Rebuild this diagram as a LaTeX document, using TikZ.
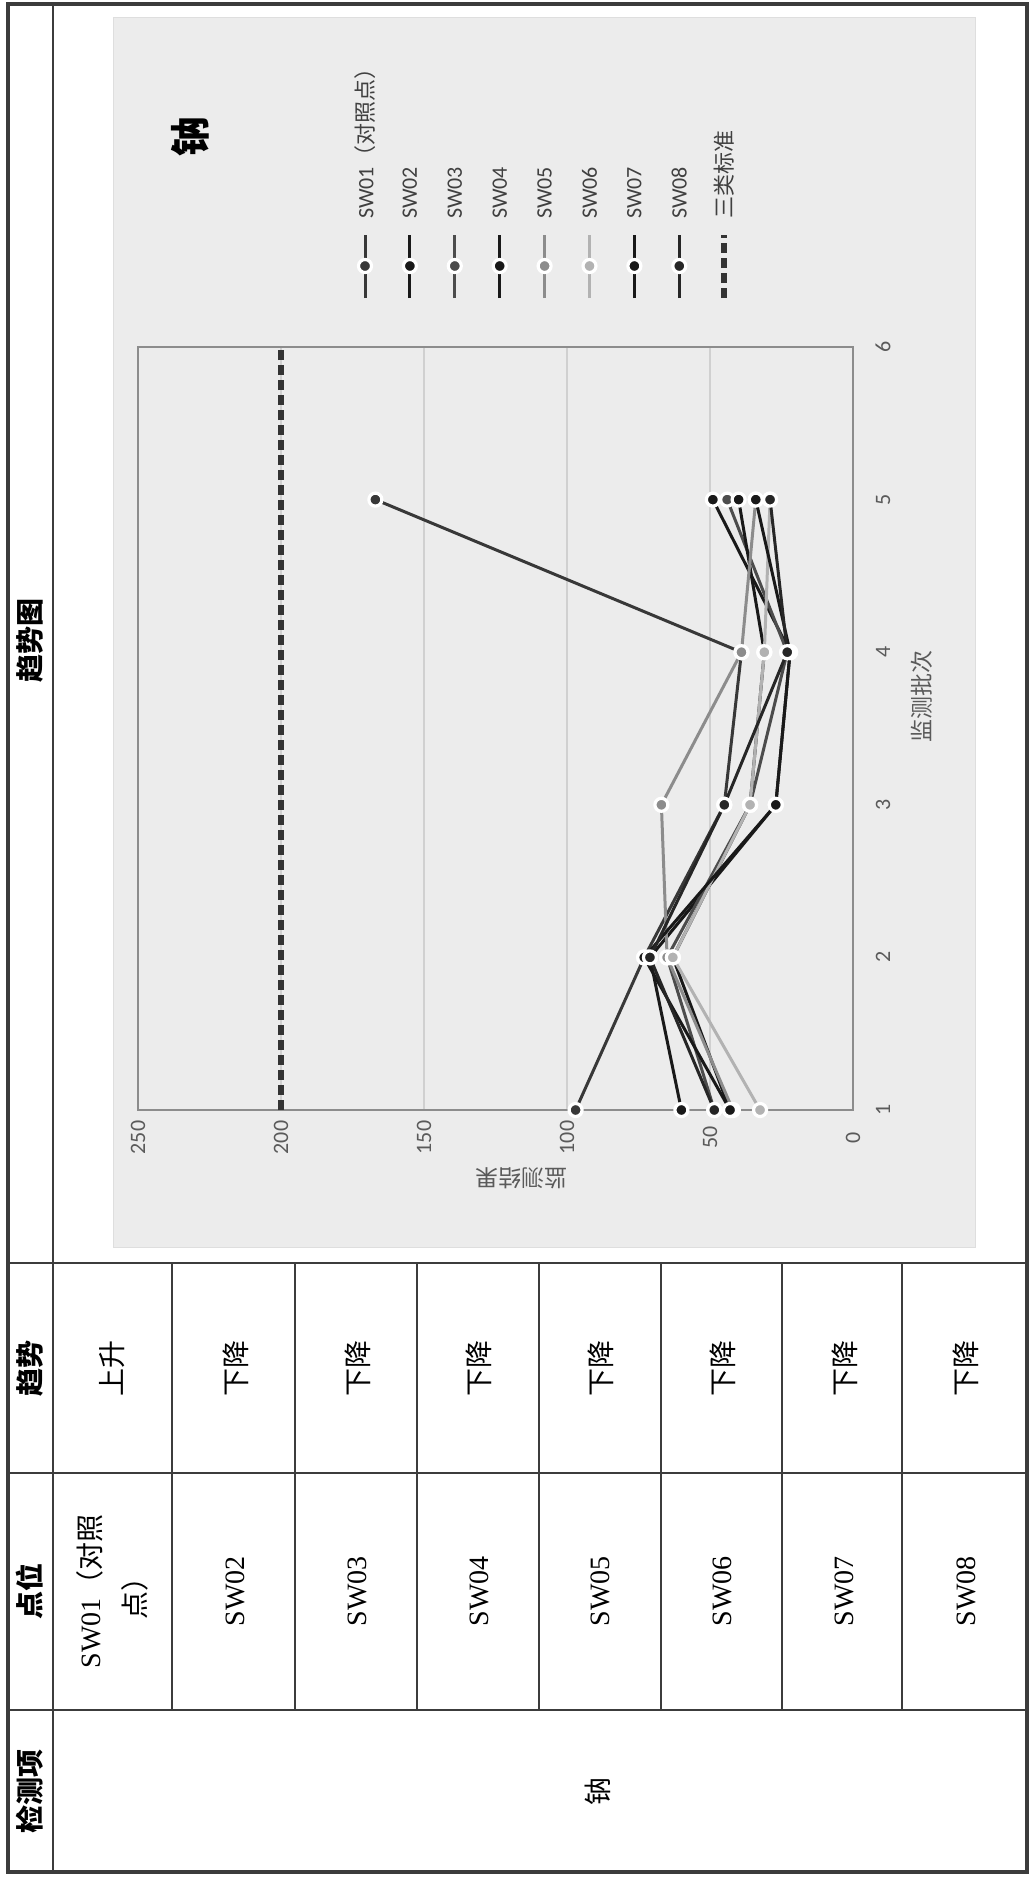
\documentclass[tikz,border=0pt]{standalone}
\usepackage{fontspec}
\setmainfont{Liberation Serif}
\newfontfamily\cjk{Noto Sans CJK SC}
\newfontfamily\cali{Carlito}
\definecolor{borde}{HTML}{3C3C3C}
\definecolor{fondo}{HTML}{ECECEC}
\definecolor{rejilla}{HTML}{D0D0D0}
\definecolor{letra}{HTML}{5A5A5A}
\begin{document}
\begin{tikzpicture}[x=0.5pt,y=-0.5pt,
    celda/.style={rotate=90,font=\fontsize{14}{22.5}\selectfont,align=center},
    cabeza/.style={rotate=90,font=\fontsize{14}{17}\selectfont\cjk\bfseries},
    marca/.style={rotate=90,font=\fontsize{11}{13}\selectfont\cali,text=letra},
    leyenda/.style={rotate=90,anchor=west,font=\fontsize{11}{13}\selectfont\cali,text=black!75},
    serie/.style={line width=1.5pt,line join=round},
    punto/.style={circle,draw=white,line width=1.6pt,inner sep=0pt,minimum size=6.5pt},
    norma/.style={line width=3pt,dash pattern=on 5pt off 2.5pt,black!80}]
    \useasboundingbox (0,0) rectangle (1032,1878);
    %%%% GRAFICO
    \draw[rejilla!70,fill=fondo] (113,17) rectangle (975,1247);
    \node[rotate=90,font=\fontsize{20}{22}\selectfont\cjk\bfseries] at (190,137) (titulo) {钠};
    \begin{scope}[shift={(853,1262.6)},x={(0pt,76.3pt)},y={(-1.43pt,0pt)}]
        %rejilla
        \foreach \v in {50,100,...,250} \draw[rejilla,line width=0.8pt] (1,\v) -- (6,\v);
        \draw[black!45,line width=0.8pt] (1,0) rectangle (6,250);
        %ejes
        \foreach \v in {0,50,...,250} \node[marca] at (0.82,\v) (y\v) {\v};
        \foreach \k in {1,...,6} \node[marca] at (\k,-10.5) (x\k) {\k};
        \node[marca,font=\fontsize{11.5}{13}\selectfont\cjk] at (3.71,-24) (ejex) {监测批次};
        \node[rotate=180,text=letra,font=\fontsize{11.5}{13}\selectfont\cjk] at (0.55,116) (ejey) {监测结果};
        %norma
        \draw[norma] (1,200) -- (6,200);
        %series
        \foreach \nom/\col/\sa/\sb/\sc/\sd/\se in {
            1/black!78/97/73/45/39/167,
            2/black!90/60/71/27/22/49,
            3/black!70/48.5/65/36/23/44,
            4/black!90/43/63/36/31/40,
            5/black!45/42/65/67/39/34,
            6/black!30/32.5/63/36/31/29,
            7/black!90/43/73/27/22/34,
            8/black!85/48.5/71/45/23/29}{
            \draw[serie,\col] (1,\sa) -- (2,\sb) -- (3,\sc) -- (4,\sd) -- (5,\se);
            \foreach \v [count=\i] in {\sa,\sb,\sc,\sd,\se}
                \node[punto,fill=\col] at (\i,\v) (p\nom-\i) {};
        }
    \end{scope}
    %leyenda
    \foreach \nom/\col [count=\i] in {SW01{\cjk（对照点）}/black!78,SW02/black!90,SW03/black!70,SW04/black!90,
        SW05/black!45,SW06/black!30,SW07/black!90,SW08/black!85}{
        \draw[serie,\col] ({365+44.9*(\i-1)},298) -- ({365+44.9*(\i-1)},235);
        \node[punto,fill=\col] at ({365+44.9*(\i-1)},266) (lp\i) {};
        \node[leyenda] at ({365+44.9*(\i-1)},226) (ley\i) {\nom};
    }
    \draw[norma] (724,298) -- (724,235);
    \node[leyenda,font=\fontsize{11}{13}\selectfont\cjk] at (724,226) (ley9) {三类标准};
    %%%% TABLA
    \draw[borde,line width=2pt] (8,4) rectangle (1027,1872);
    \draw[borde,line width=1pt] (53,4) -- (53,1872);
    \foreach \y in {1263,1473,1710} \draw[borde,line width=1pt] (8,\y) -- (1027,\y);
    \foreach \x in {172,295,417,539,661,782,902} \draw[borde,line width=1pt] (\x,1263) -- (\x,1710);
    %cabeza
    \node[cabeza] at (30,1791) (h1) {检测项};
    \node[cabeza] at (30,1591) (h2) {点位};
    \node[cabeza] at (30,1368) (h3) {趋势};
    \node[cabeza] at (30,640) (h4) {趋势图};
    \node[celda,font=\fontsize{14}{17}\selectfont\cjk] at (598,1791) (item) {钠};
    %filas
    \node[celda] at (112,1591) (pt1) {SW01{\cjk（对照}\\{\cjk 点）}};
    \node[celda,font=\fontsize{14}{17}\selectfont\cjk] at (112,1368) (tr1) {上升};
    \foreach \k in {2,...,8}{
        \node[celda] at ({53+121.75*(\k-0.5)},1591) (pt\k) {SW0\k};
        \node[celda,font=\fontsize{14}{17}\selectfont\cjk] at ({53+121.75*(\k-0.5)},1368) (tr\k) {下降};
    }
\end{tikzpicture}
\end{document}
